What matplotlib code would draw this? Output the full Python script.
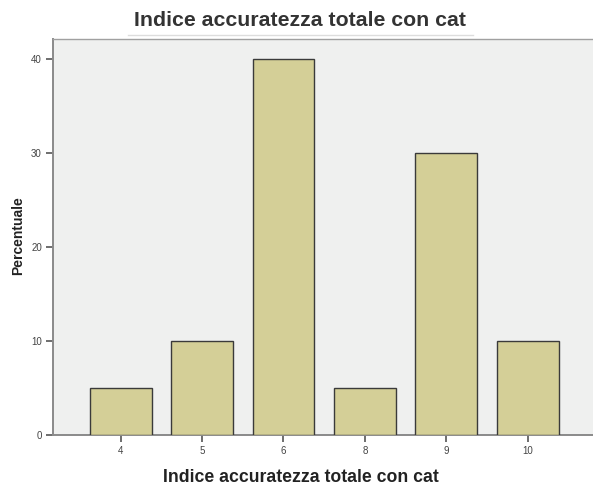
import matplotlib
matplotlib.use("Agg")
import matplotlib.pyplot as plt
from matplotlib.lines import Line2D

categories = ["4", "5", "6", "8", "9", "10"]
percent = [5, 10, 40, 5, 30, 10]
yticks = [0, 10, 20, 30, 40]

plt.rcParams['font.family'] = ['Liberation Sans', 'DejaVu Sans']

fig = plt.figure(figsize=(5.93, 4.88), dpi=100)
fig.patch.set_facecolor("white")
ax_w = 1 - 53/593
ax = fig.add_axes([53/593, 1-435/488, ax_w, (435-39)/488])
ax.set_facecolor("#eff0ef")

x = list(range(len(categories)))
ax.bar(x, percent, width=0.76, color="#d4cf97", edgecolor="#3a3a3a", linewidth=1.0, zorder=3)

ax.set_xlim(-0.83, 5.8)
ax.set_ylim(0, 42.1)
ax.set_xticks(x)
ax.set_xticklabels(categories)
ax.set_yticks(yticks)

for s in ["left", "bottom"]:
    ax.spines[s].set_color("#8a8a8a")
    ax.spines[s].set_linewidth(1.4)
ax.spines["right"].set_visible(False)
ax.spines["top"].set_color("#a0a0a0")
ax.spines["top"].set_linewidth(1.0)

ax.tick_params(axis="both", labelsize=7, colors="#555555", length=5, width=1.2, pad=3)
ax.tick_params(axis="both", labelcolor="#444444")

ax.set_xlabel("Indice accuratezza totale con cat", fontsize=12.7, fontweight="bold", color="#222222")
ax.xaxis.set_label_coords((301-53)/540, -(478-435)/396)
ax.xaxis.label.set_va("center")
ax.set_ylabel("Percentuale", fontsize=10, fontweight="bold", color="#222222")
ax.yaxis.set_label_coords(-(53-18)/540, (435-236)/396)
ax.yaxis.label.set_va("center")

fig.text(300/593, 1-21/488, "Indice accuratezza totale con cat", ha="center", va="center",
         fontsize=15.3, fontweight="bold", color="#333333")
fig.add_artist(Line2D([128/593, 473/593], [1-35/488, 1-35/488], color="#dddddd", linewidth=1.0,
                      transform=fig.transFigure))

fig.savefig("out.png", dpi=100)
